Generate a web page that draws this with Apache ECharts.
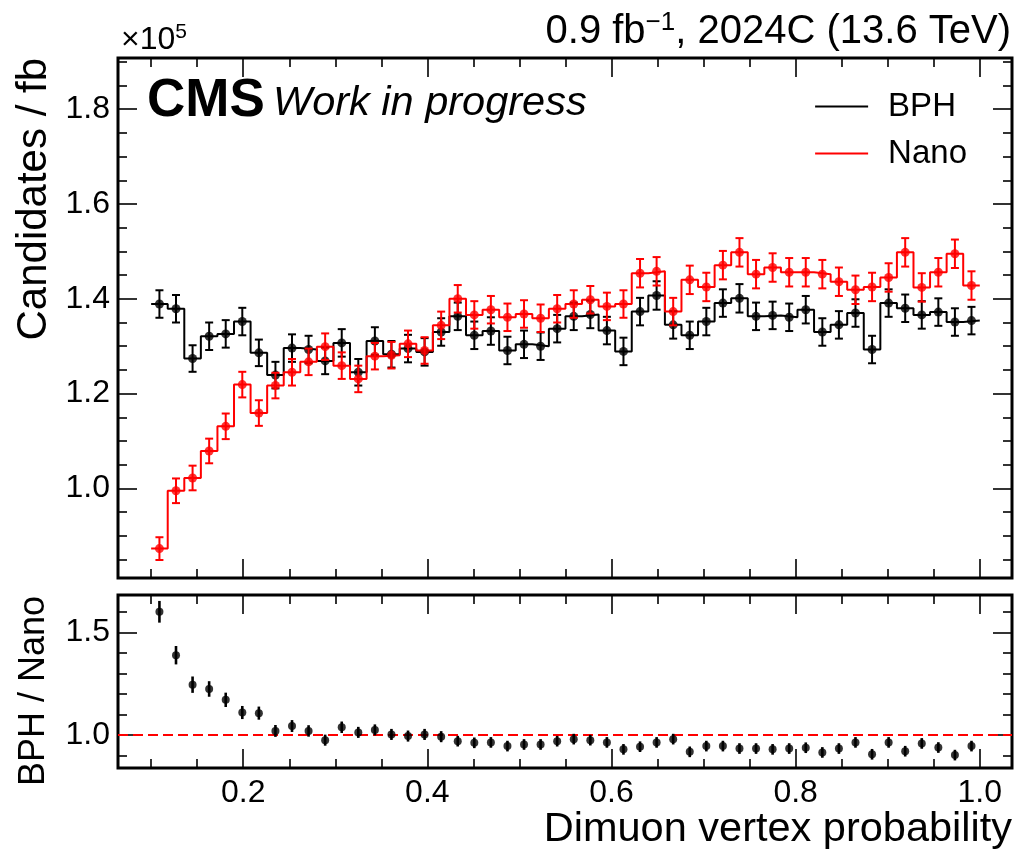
<!DOCTYPE html>
<html>
<head>
<meta charset="utf-8">
<script src="https://cdn.jsdelivr.net/npm/echarts@6/dist/echarts.min.js"></script>
<style>
  html, body { margin: 0; padding: 0; background: #fff; }
  #chart { width: 1017px; height: 857px; }
</style>
</head>
<body>
<div id="chart"></div>
<script>
// Histogram binning: 50 bins between 0.1 and 1.0
const binLow = 0.1;
const binWidth = 0.018;
const nBins = 50;

// Candidates per fb, in units of 1e5
const bphValues = [
  1.389, 1.379, 1.274, 1.321, 1.326, 1.352, 1.286, 1.239, 1.296, 1.293,
  1.269, 1.307, 1.245, 1.311, 1.283, 1.295, 1.288, 1.330, 1.363, 1.323,
  1.332, 1.291, 1.304, 1.300, 1.337, 1.363, 1.367, 1.333, 1.289, 1.373,
  1.407, 1.345, 1.323, 1.352, 1.391, 1.401, 1.363, 1.365, 1.361, 1.377,
  1.330, 1.345, 1.370, 1.293, 1.391, 1.380, 1.366, 1.372, 1.351, 1.354
];
const bphErrors = [
  0.029, 0.029, 0.028, 0.029, 0.029, 0.029, 0.028, 0.028, 0.029, 0.029,
  0.028, 0.029, 0.028, 0.029, 0.028, 0.029, 0.029, 0.029, 0.029, 0.029,
  0.029, 0.029, 0.029, 0.029, 0.029, 0.029, 0.029, 0.029, 0.029, 0.029,
  0.030, 0.029, 0.029, 0.029, 0.029, 0.030, 0.029, 0.029, 0.029, 0.029,
  0.029, 0.029, 0.029, 0.029, 0.029, 0.029, 0.029, 0.029, 0.029, 0.029
];
const nanoValues = [
  0.873, 0.995, 1.022, 1.079, 1.131, 1.219, 1.159, 1.217, 1.245, 1.267,
  1.299, 1.259, 1.231, 1.279, 1.281, 1.305, 1.291, 1.344, 1.400, 1.366,
  1.377, 1.361, 1.368, 1.359, 1.379, 1.389, 1.398, 1.384, 1.389, 1.454,
  1.458, 1.373, 1.440, 1.425, 1.471, 1.498, 1.452, 1.466, 1.456, 1.456,
  1.452, 1.436, 1.419, 1.425, 1.445, 1.498, 1.424, 1.456, 1.495, 1.428
];
const nanoErrors = [
  0.024, 0.026, 0.026, 0.026, 0.027, 0.027, 0.027, 0.027, 0.028, 0.028,
  0.028, 0.028, 0.028, 0.028, 0.028, 0.028, 0.028, 0.029, 0.029, 0.029,
  0.029, 0.029, 0.029, 0.029, 0.029, 0.029, 0.029, 0.029, 0.029, 0.030,
  0.030, 0.029, 0.030, 0.030, 0.030, 0.030, 0.030, 0.030, 0.030, 0.030,
  0.030, 0.030, 0.030, 0.030, 0.030, 0.030, 0.030, 0.030, 0.030, 0.030
];
// BPH / Nano ratio per bin
const ratioValues = [
  1.602, 1.390, 1.246, 1.225, 1.172, 1.110, 1.107, 1.020, 1.044, 1.020,
  0.975, 1.038, 1.013, 1.025, 1.003, 0.995, 1.003, 0.992, 0.970, 0.962,
  0.964, 0.946, 0.954, 0.954, 0.970, 0.980, 0.975, 0.964, 0.930, 0.943,
  0.964, 0.980, 0.918, 0.946, 0.946, 0.934, 0.934, 0.930, 0.934, 0.938,
  0.915, 0.934, 0.964, 0.906, 0.964, 0.921, 0.959, 0.939, 0.902, 0.946
];
const ratioErrors = [
  0.053, 0.045, 0.040, 0.038, 0.035, 0.032, 0.032, 0.029, 0.029, 0.028,
  0.027, 0.028, 0.027, 0.027, 0.027, 0.027, 0.027, 0.027, 0.026, 0.026,
  0.026, 0.026, 0.026, 0.026, 0.026, 0.026, 0.026, 0.026, 0.026, 0.026,
  0.026, 0.026, 0.026, 0.026, 0.026, 0.026, 0.026, 0.026, 0.026, 0.026,
  0.026, 0.026, 0.026, 0.026, 0.026, 0.026, 0.026, 0.026, 0.026, 0.026
];

// Axis ranges and tick positions
const xRange = [0.064, 1.035];
const mainYRange = [0.811, 1.908];
const ratioYRange = [0.839, 1.684];
const xMajorTicks = [0.2, 0.4, 0.6, 0.8, 1.0];
const xMinorTicks = [0.1, 0.15, 0.25, 0.3, 0.35, 0.45, 0.5, 0.55, 0.65, 0.7, 0.75, 0.85, 0.9, 0.95];
const mainYMajorTicks = [1.0, 1.2, 1.4, 1.6, 1.8];
const mainYMinorTicks = [0.85, 0.9, 0.95, 1.05, 1.1, 1.15, 1.25, 1.3, 1.35, 1.45, 1.5, 1.55, 1.65, 1.7, 1.75, 1.85, 1.9];
const ratioYMajorTicks = [1.0, 1.5];
const ratioYMinorTicks = [0.9, 1.1, 1.2, 1.3, 1.4, 1.6];

const FONT = '"Liberation Sans", Arial, Helvetica, sans-serif';
const RED = '#f00';
const BLACK = '#000';
const TICK_FONT = 32;

const edges = [];
for (let i = 0; i <= nBins; i++) edges.push(+(binLow + i * binWidth).toFixed(4));
const centers = edges.slice(0, nBins).map((e, i) => (e + edges[i + 1]) / 2);

function stepData(values) {
  const pts = [];
  values.forEach((v, i) => { pts.push([edges[i], v]); pts.push([edges[i + 1], v]); });
  return pts;
}
function pointData(values, errs) {
  return values.map((v, i) => [centers[i], v, errs[i]]);
}

function errorBars(color, lineWidth, capHalf) {
  return function (params, api) {
    const x = api.value(0), y = api.value(1), e = api.value(2);
    const top = api.coord([x, y + e]);
    const bot = api.coord([x, y - e]);
    const kids = [{
      type: 'line',
      shape: { x1: top[0], y1: top[1], x2: bot[0], y2: bot[1] },
      style: { stroke: color, lineWidth: lineWidth }
    }];
    if (capHalf > 0) {
      [top, bot].forEach(p => kids.push({
        type: 'line',
        shape: { x1: p[0] - capHalf, y1: p[1], x2: p[0] + capHalf, y2: p[1] },
        style: { stroke: color, lineWidth: lineWidth }
      }));
    }
    return { type: 'group', children: kids };
  };
}

function xAxis(grid, position, ticks, len, labels) {
  return {
    type: 'value', gridIndex: grid, position: position,
    min: xRange[0], max: xRange[1],
    axisLine: { show: false },
    splitLine: { show: false },
    axisTick: { show: true, inside: true, length: len, customValues: ticks,
                lineStyle: { color: BLACK, width: 1.6 } },
    axisLabel: labels ? {
      show: true, customValues: xMajorTicks, margin: 9,
      color: BLACK, fontSize: TICK_FONT, fontFamily: FONT,
      formatter: v => v.toFixed(1)
    } : { show: false }
  };
}
function yAxis(grid, position, range, ticks, len, labelTicks) {
  return {
    type: 'value', gridIndex: grid, position: position,
    min: range[0], max: range[1],
    axisLine: { show: false },
    splitLine: { show: false },
    axisTick: { show: true, inside: true, length: len, customValues: ticks,
                lineStyle: { color: BLACK, width: 1.6 } },
    axisLabel: labelTicks ? {
      show: true, customValues: labelTicks, margin: 8,
      color: BLACK, fontSize: TICK_FONT, fontFamily: FONT,
      formatter: v => v.toFixed(1)
    } : { show: false }
  };
}

const xAxes = [
  xAxis(0, 'bottom', xMajorTicks, 19, false),
  xAxis(0, 'bottom', xMinorTicks, 9, false),
  xAxis(0, 'top', xMajorTicks, 19, false),
  xAxis(0, 'top', xMinorTicks, 9, false),
  xAxis(1, 'bottom', xMajorTicks, 19, true),
  xAxis(1, 'bottom', xMinorTicks, 9, false),
  xAxis(1, 'top', xMajorTicks, 19, false),
  xAxis(1, 'top', xMinorTicks, 9, false)
];
const yAxes = [
  yAxis(0, 'left', mainYRange, mainYMajorTicks, 19, mainYMajorTicks),
  yAxis(0, 'left', mainYRange, mainYMinorTicks, 9, null),
  yAxis(0, 'right', mainYRange, mainYMajorTicks, 19, null),
  yAxis(0, 'right', mainYRange, mainYMinorTicks, 9, null),
  yAxis(1, 'left', ratioYRange, ratioYMajorTicks, 19, ratioYMajorTicks),
  yAxis(1, 'left', ratioYRange, ratioYMinorTicks, 9, null),
  yAxis(1, 'right', ratioYRange, ratioYMajorTicks, 19, null),
  yAxis(1, 'right', ratioYRange, ratioYMinorTicks, 9, null)
];

const series = [
  {
    name: 'BPH', type: 'line', xAxisIndex: 0, yAxisIndex: 0,
    data: stepData(bphValues), symbol: 'none', color: BLACK,
    lineStyle: { color: BLACK, width: 2 }, z: 3
  },
  {
    name: 'Nano', type: 'line', xAxisIndex: 0, yAxisIndex: 0,
    data: stepData(nanoValues), symbol: 'none', color: RED,
    lineStyle: { color: RED, width: 2 }, z: 4
  },
  {
    name: 'BPH errors', type: 'custom', xAxisIndex: 0, yAxisIndex: 0,
    data: pointData(bphValues, bphErrors), renderItem: errorBars(BLACK, 2, 4), z: 5
  },
  {
    name: 'BPH markers', type: 'scatter', xAxisIndex: 0, yAxisIndex: 0,
    data: pointData(bphValues, bphErrors), symbol: 'circle', symbolSize: 9,
    itemStyle: { color: BLACK }, z: 6
  },
  {
    name: 'Nano errors', type: 'custom', xAxisIndex: 0, yAxisIndex: 0,
    data: pointData(nanoValues, nanoErrors), renderItem: errorBars(RED, 2, 4), z: 7
  },
  {
    name: 'Nano markers', type: 'scatter', xAxisIndex: 0, yAxisIndex: 0,
    data: pointData(nanoValues, nanoErrors), symbol: 'circle', symbolSize: 9,
    itemStyle: { color: RED }, z: 8
  },
  {
    name: 'Ratio errors', type: 'custom', xAxisIndex: 4, yAxisIndex: 4,
    data: pointData(ratioValues, ratioErrors), renderItem: errorBars(BLACK, 2.6, 0), z: 5,
    markLine: {
      silent: true, symbol: 'none', label: { show: false },
      lineStyle: { color: RED, width: 2, type: [10, 5] },
      data: [{ yAxis: 1.0 }]
    }
  },
  {
    name: 'Ratio markers', type: 'scatter', xAxisIndex: 4, yAxisIndex: 4,
    data: pointData(ratioValues, ratioErrors), symbol: 'circle', symbolSize: 8,
    itemStyle: { color: BLACK }, z: 6
  }
];

const graphic = [
  { type: 'text', x: 1011, y: 32, style: {
      text: '{a|0.9 fb}{s|−1}{a|, 2024C (13.6 TeV)}', align: 'right', verticalAlign: 'middle',
      rich: {
        a: { fontSize: 40, fontFamily: FONT, fill: BLACK, lineHeight: 44 },
        s: { fontSize: 26, fontFamily: FONT, fill: BLACK, verticalAlign: 'top', lineHeight: 44 }
      } } },
  { type: 'text', x: 121, y: 40, style: {
      text: '{a|×10}{s|5}', align: 'left', verticalAlign: 'middle',
      rich: {
        a: { fontSize: 32, fontFamily: FONT, fill: BLACK, lineHeight: 36 },
        s: { fontSize: 21, fontFamily: FONT, fill: BLACK, verticalAlign: 'top', lineHeight: 36 }
      } } },
  { type: 'text', x: 147, y: 101, style: {
      text: 'CMS', fontSize: 53, fontWeight: 'bold', fontFamily: FONT, fill: BLACK,
      align: 'left', verticalAlign: 'middle' } },
  { type: 'text', x: 273, y: 103, style: {
      text: 'Work in progress', fontSize: 41.5, fontStyle: 'italic', fontFamily: FONT, fill: BLACK,
      align: 'left', verticalAlign: 'middle' } },
  { type: 'text', x: 34, y: 58, rotation: Math.PI / 2, style: {
      text: 'Candidates / fb', fontSize: 42, fontFamily: FONT, fill: BLACK,
      align: 'right', verticalAlign: 'middle' } },
  { type: 'text', x: 34, y: 596, rotation: Math.PI / 2, style: {
      text: 'BPH / Nano', fontSize: 36, fontFamily: FONT, fill: BLACK,
      align: 'right', verticalAlign: 'middle' } },
  { type: 'text', x: 1012, y: 830, style: {
      text: 'Dimuon vertex probability', fontSize: 41.5, fontFamily: FONT, fill: BLACK,
      align: 'right', verticalAlign: 'middle' } }
];

const chart = echarts.init(document.getElementById('chart'), null, { renderer: 'canvas' });
chart.setOption({
  animation: false,
  backgroundColor: '#fff',
  grid: [
    { left: 118, top: 58, width: 894, height: 520, show: true, borderColor: BLACK, borderWidth: 3, containLabel: false },
    { left: 118, top: 595, width: 894, height: 173, show: true, borderColor: BLACK, borderWidth: 3, containLabel: false }
  ],
  legend: {
    data: ['BPH', 'Nano'], orient: 'vertical', right: 50, top: 90, padding: 0,
    icon: 'rect', itemWidth: 53, itemHeight: 2, itemGap: 14, align: 'left',
    textStyle: { fontSize: 33, fontFamily: FONT, color: BLACK, lineHeight: 33, padding: [0, 0, 0, 15] },
    selectedMode: false
  },
  xAxis: xAxes,
  yAxis: yAxes,
  series: series,
  graphic: graphic
});
</script>
</body>
</html>
